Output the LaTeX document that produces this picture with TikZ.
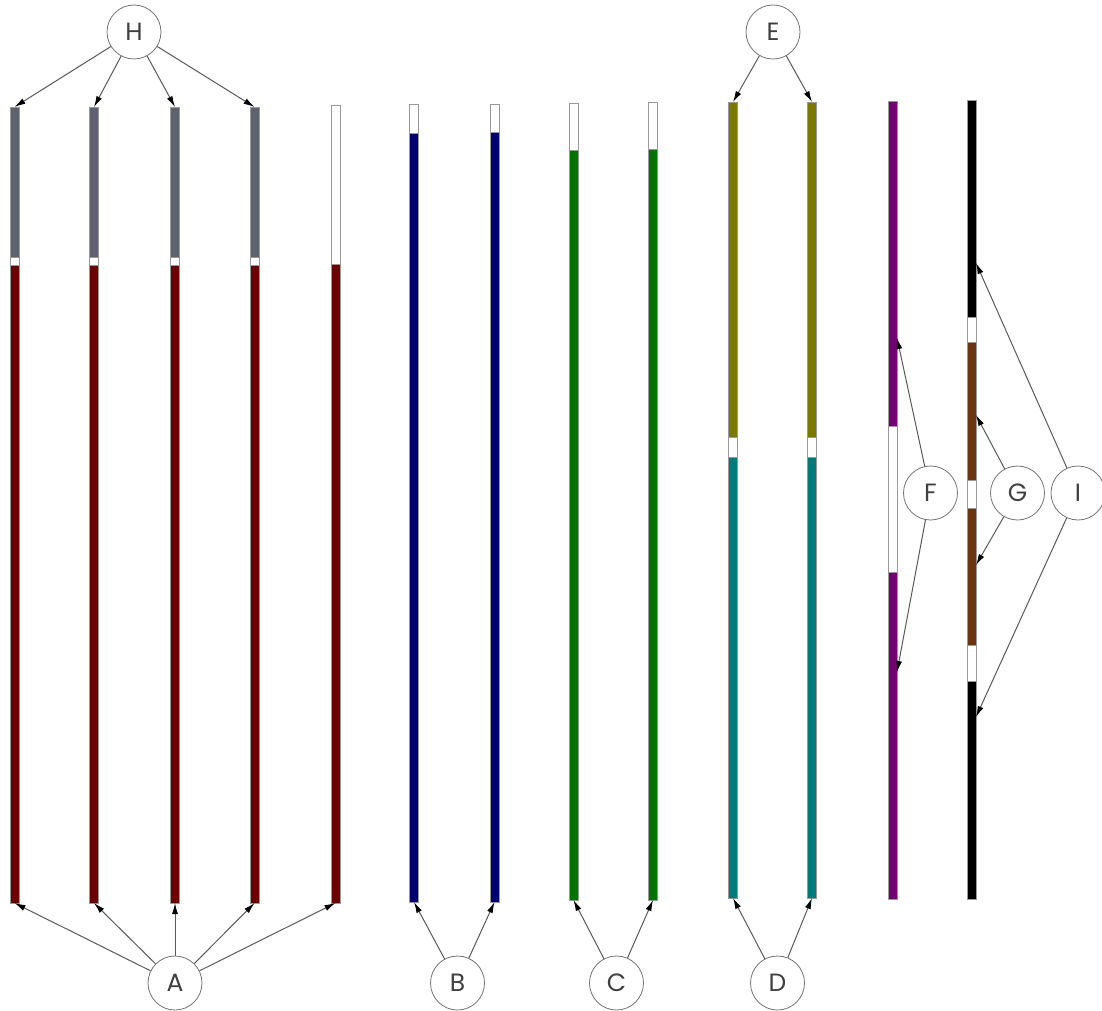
\documentclass[tikz,border=0pt]{standalone}
\usepackage{fontspec}
\setmainfont{Poppins}
\usepackage{tikz}
\usetikzlibrary{arrows.meta}
\definecolor{slate}{HTML}{5E6170}
\definecolor{maroon}{HTML}{6A0000}
\definecolor{navy}{HTML}{000072}
\definecolor{leaf}{HTML}{007400}
\definecolor{olive}{HTML}{7B7800}
\definecolor{teal}{HTML}{007B7B}
\definecolor{plum}{HTML}{720072}
\definecolor{rust}{HTML}{6B3512}
\tikzstyle{tag}=[circle, draw=black!55, minimum size=27pt, inner sep=0pt, text=black!75, font=\fontsize{12.5}{12.5}\selectfont]
\tikzstyle{seg}=[draw=black!40, line width=0.4pt]

\begin{document}
\begin{tikzpicture}[x=0.5pt, y=-0.5pt]
      \useasboundingbox (0,0) rectangle (1102,1011);
      % bar ends
      \foreach \i/\x/\t/\b in {1/14.5/107/903, 2/94/107/903, 3/175/107/903, 4/254.5/107/903,
          5/335.5/105/903, 6/414/104/902, 7/494.5/104/902, 8/573.5/103/900, 9/653/102/900,
          10/733/102/898, 11/812/102/898}{
        \coordinate (top\i) at (\x,\t);
        \coordinate (bot\i) at (\x,\b);
      }
      % bar pieces
      \foreach \x/\a/\b/\c in {14.5/107/257/slate, 14.5/257/265/white, 14.5/265/903/maroon,
          94/107/257/slate, 94/257/265/white, 94/265/903/maroon,
          175/107/257/slate, 175/257/265/white, 175/265/903/maroon,
          254.5/107/257/slate, 254.5/257/265/white, 254.5/265/903/maroon,
          335.5/105/264/white, 335.5/264/903/maroon,
          414/104/133/white, 414/133/902/navy,
          494.5/104/132/white, 494.5/132/902/navy,
          573.5/103/150/white, 573.5/150/900/leaf,
          653/102/149/white, 653/149/900/leaf,
          733/102/437/olive, 733/437/457/white, 733/457/898/teal,
          812/102/437/olive, 812/437/457/white, 812/457/898/teal,
          892.5/101/426/plum, 892.5/426/572/white, 892.5/572/899/plum,
          971.5/100/317/black, 971.5/317/342/white, 971.5/342/480/rust,
          971.5/480/508/white, 971.5/508/645/rust, 971.5/645/681/white,
          971.5/681/899/black}
        \filldraw[seg, fill=\c] (\x-4.5,\a) rectangle (\x+4.5,\b);
      \coordinate (f1) at (897,338);
      \coordinate (f2) at (897,672);
      \coordinate (g1) at (976,415);
      \coordinate (g2) at (976,565);
      \coordinate (i1) at (976,263);
      \coordinate (i2) at (976,717);
      % labels
      \node[tag](H) at (134,32) {H};
      \node[tag](E) at (773,32) {E};
      \node[tag](A) at (175,983) {A};
      \node[tag](B) at (457.5,983) {B};
      \node[tag](C) at (616.5,983) {C};
      \node[tag](D) at (777.5,983) {D};
      \node[tag](F) at (930.5,493) {F};
      \node[tag](G) at (1017.5,493) {G};
      \node[tag](I) at (1078,493) {I};
      \begin{scope}[every path/.style={-{Latex[length=5.5pt,width=3pt,black]}, draw=black!65, line width=0.5pt}]
        \foreach \i in {1,2,3,4}
          \draw (H) -- (top\i);
        \draw (E) -- (top10);
        \draw (E) -- (top11);
        \foreach \i in {1,...,5}
          \draw (A) -- (bot\i);
        \draw (B) -- (bot6);
        \draw (B) -- (bot7);
        \draw (C) -- (bot8);
        \draw (C) -- (bot9);
        \draw (D) -- (bot10);
        \draw (D) -- (bot11);
        \draw (F) -- (f1);
        \draw (F) -- (f2);
        \draw (G) -- (g1);
        \draw (G) -- (g2);
        \draw (I) -- (i1);
        \draw (I) -- (i2);
      \end{scope}
    \end{tikzpicture}
\end{document}
